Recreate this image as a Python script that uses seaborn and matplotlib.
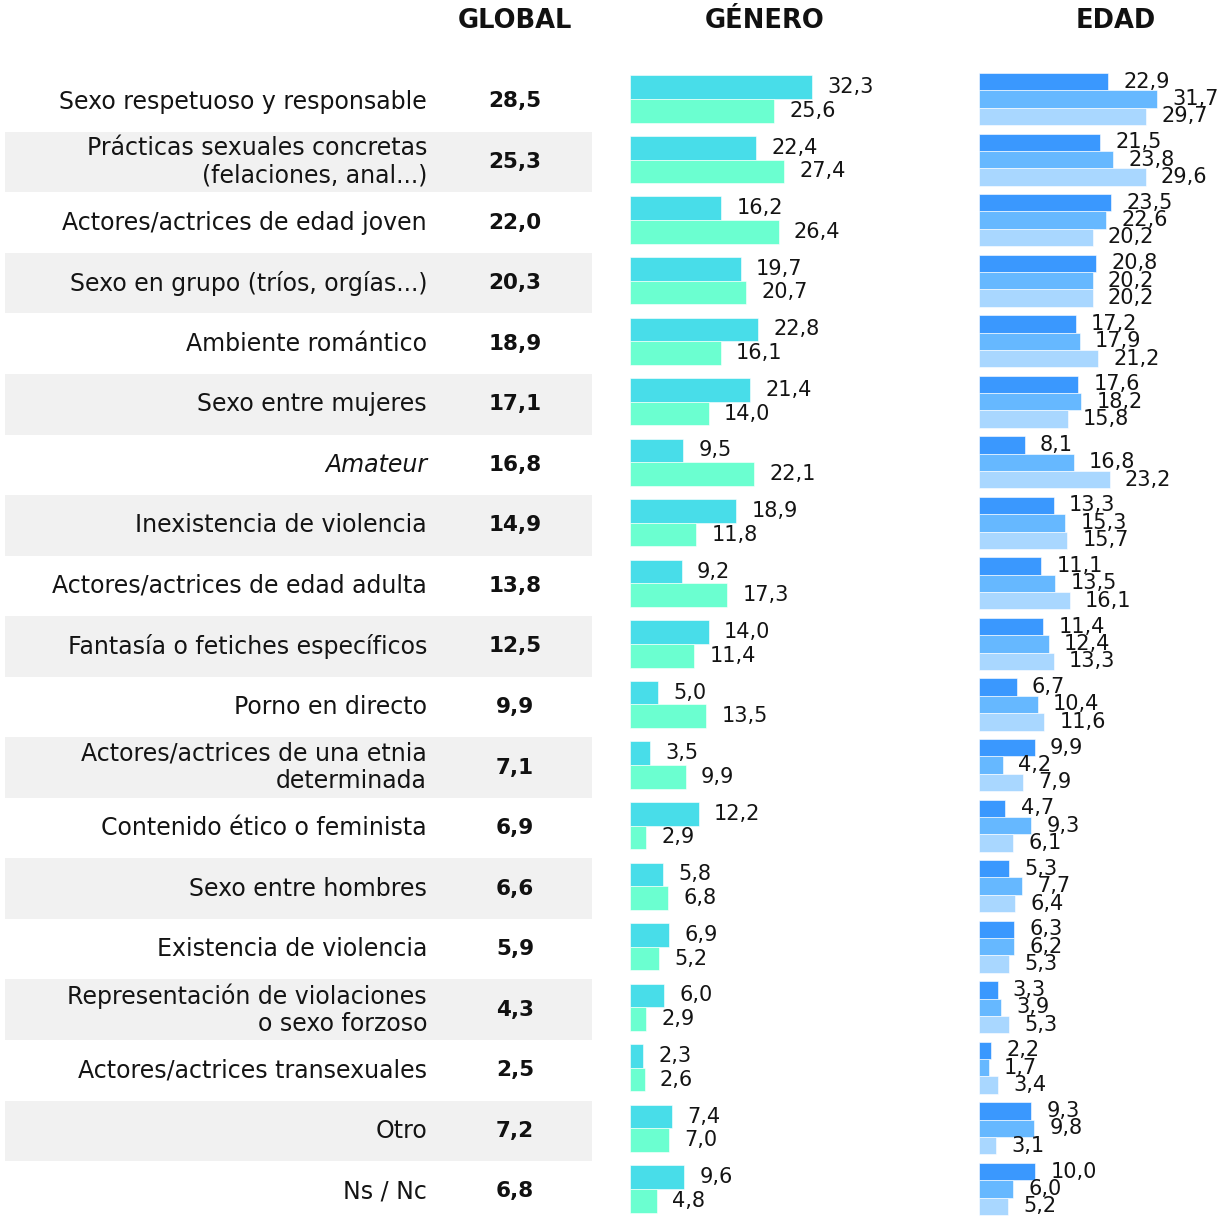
import matplotlib
matplotlib.use("Agg")
import matplotlib.pyplot as plt
import seaborn as sns
import pandas as pd

categories = [
    "Sexo respetuoso y responsable",
    "Prácticas sexuales concretas\n(felaciones, anal...)",
    "Actores/actrices de edad joven",
    "Sexo en grupo (tríos, orgías...)",
    "Ambiente romántico",
    "Sexo entre mujeres",
    "Amateur",
    "Inexistencia de violencia",
    "Actores/actrices de edad adulta",
    "Fantasía o fetiches específicos",
    "Porno en directo",
    "Actores/actrices de una etnia\ndeterminada",
    "Contenido ético o feminista",
    "Sexo entre hombres",
    "Existencia de violencia",
    "Representación de violaciones\no sexo forzoso",
    "Actores/actrices transexuales",
    "Otro",
    "Ns / Nc",
]
global_vals = [28.5, 25.3, 22.0, 20.3, 18.9, 17.1, 16.8, 14.9, 13.8, 12.5,
               9.9, 7.1, 6.9, 6.6, 5.9, 4.3, 2.5, 7.2, 6.8]
genero_names = ["Hombre", "Mujer"]
genero_hombre = [32.3, 22.4, 16.2, 19.7, 22.8, 21.4, 9.5, 18.9, 9.2, 14.0,
                 5.0, 3.5, 12.2, 5.8, 6.9, 6.0, 2.3, 7.4, 9.6]
genero_mujer = [25.6, 27.4, 26.4, 20.7, 16.1, 14.0, 22.1, 11.8, 17.3, 11.4,
                13.5, 9.9, 2.9, 6.8, 5.2, 2.9, 2.6, 7.0, 4.8]
edad_names = ["Edad 1", "Edad 2", "Edad 3"]
edad_1 = [22.9, 21.5, 23.5, 20.8, 17.2, 17.6, 8.1, 13.3, 11.1, 11.4,
          6.7, 9.9, 4.7, 5.3, 6.3, 3.3, 2.2, 9.3, 10.0]
edad_2 = [31.7, 23.8, 22.6, 20.2, 17.9, 18.2, 16.8, 15.3, 13.5, 12.4,
          10.4, 4.2, 9.3, 7.7, 6.2, 3.9, 1.7, 9.8, 6.0]
edad_3 = [29.7, 29.6, 20.2, 20.2, 21.2, 15.8, 23.2, 15.7, 16.1, 13.3,
          11.6, 7.9, 6.1, 6.4, 5.3, 5.3, 3.4, 3.1, 5.2]

genero_colors = ["#48dde9", "#6bffd0"]
edad_colors = ["#3a98fe", "#66b8ff", "#a9d7ff"]
band_color = "#f1f1f1"

sns.set_theme(style="white")
plt.rcParams["font.family"] = ["DejaVu Sans"]

W, H = 1220, 1219
fig = plt.figure(figsize=(W / 100, H / 100), dpi=100)

n = len(categories)
row0 = 101.5
pitch = 60.55


def rect(x0, x1, ytop, ybot):
    return [x0 / W, 1 - ybot / H, (x1 - x0) / W, (ybot - ytop) / H]


top = row0 - pitch / 2
bot = row0 + pitch * (n - 0.5)

# background / label axes
ax_bg = fig.add_axes(rect(0, W, top, bot))
ax_bg.set_xlim(0, W)
ax_bg.set_ylim(n - 0.5, -0.5)
ax_bg.axis("off")
for i, cat in enumerate(categories):
    if i % 2 == 1:
        ax_bg.axhspan(i - 0.5, i + 0.5, xmin=5 / W, xmax=592 / W,
                      color=band_color, lw=0, zorder=0)
    ax_bg.text(427, i, cat, ha="right", va="center", fontsize=17,
               color="#141414", style="italic" if cat == "Amateur" else "normal",
               linespacing=1.2)
    ax_bg.text(515, i, f"{global_vals[i]:.1f}".replace(".", ","), ha="center",
               va="center", fontsize=15.5, fontweight="bold", color="#111111")

# headers
for txt, xc in [("GLOBAL", 515), ("GÉNERO", 765), ("EDAD", 1116)]:
    fig.text(xc / W, 1 - 21 / H, txt, ha="center", va="center",
             fontsize=18.5, fontweight="bold", color="#111111")

scale = 5.625
shift = 2.5

# gender
df_g = pd.DataFrame({
    "cat": categories * 2,
    "grupo": [genero_names[0]] * n + [genero_names[1]] * n,
    "valor": genero_hombre + genero_mujer,
})
ax_g = fig.add_axes(rect(630, 970, top - shift, bot - shift))
sns.barplot(data=df_g, y="cat", x="valor", hue="grupo", order=categories,
            hue_order=genero_names, palette=genero_colors, orient="h",
            width=0.78, errorbar=None, legend=False, ax=ax_g,
            edgecolor="white", linewidth=0.4, saturation=1)
ax_g.set_xlim(0, 340 / scale)
ax_g.set_ylim(n - 0.5, -0.5)
ax_g.axis("off")
for cont, vals in zip(ax_g.containers, [genero_hombre, genero_mujer]):
    ax_g.bar_label(cont, labels=[f"{v:.1f}".replace(".", ",") for v in vals],
                   padding=11, fontsize=15, color="#141414", clip_on=False)

# age
df_e = pd.DataFrame({
    "cat": categories * 3,
    "grupo": [edad_names[0]] * n + [edad_names[1]] * n + [edad_names[2]] * n,
    "valor": edad_1 + edad_2 + edad_3,
})
ax_e = fig.add_axes(rect(979, W, top - shift, bot - shift))
sns.barplot(data=df_e, y="cat", x="valor", hue="grupo", order=categories,
            hue_order=edad_names, palette=edad_colors, orient="h",
            width=0.86, errorbar=None, legend=False, ax=ax_e,
            edgecolor="white", linewidth=0.4, saturation=1)
ax_e.set_xlim(0, (W - 979) / scale)
ax_e.set_ylim(n - 0.5, -0.5)
ax_e.axis("off")
for cont, vals in zip(ax_e.containers, [edad_1, edad_2, edad_3]):
    ax_e.bar_label(cont, labels=[f"{v:.1f}".replace(".", ",") for v in vals],
                   padding=11, fontsize=15, color="#141414", clip_on=False)

fig.savefig("out.png", dpi=100)
